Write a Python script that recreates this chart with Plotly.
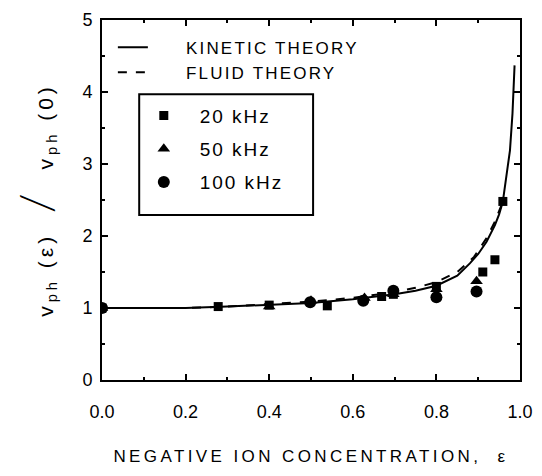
import plotly.graph_objects as go

# theory curves
kinetic_x = [0.0, 0.1, 0.2, 0.3, 0.4, 0.5, 0.6, 0.7, 0.75, 0.8, 0.85, 0.88,
             0.9, 0.92, 0.94, 0.95, 0.959, 0.968, 0.976, 0.982, 0.986, 0.987]
kinetic_y = [1.0, 1.0, 1.0, 1.02, 1.04, 1.07, 1.12, 1.19, 1.24, 1.31, 1.45, 1.62,
             1.75, 1.92, 2.15, 2.3, 2.48, 2.85, 3.19, 3.7, 4.2, 4.37]
fluid_x = [0.0, 0.1, 0.2, 0.3, 0.4, 0.5, 0.6, 0.7, 0.75, 0.8, 0.85, 0.89,
           0.92, 0.94, 0.955, 0.96]
fluid_y = [1.0, 1.0, 1.0, 1.02, 1.05, 1.09, 1.14, 1.22, 1.28, 1.36, 1.5, 1.71,
           1.97, 2.2, 2.42, 2.5]

# measurements
sq_x = [0.0, 0.278, 0.40, 0.539, 0.669, 0.697, 0.80, 0.911, 0.940, 0.959]
sq_y = [1.0, 1.02, 1.04, 1.03, 1.16, 1.19, 1.30, 1.50, 1.67, 2.48]
tri_x = [0.0, 0.40, 0.50, 0.628, 0.697, 0.80, 0.896]
tri_y = [1.0, 1.02, 1.10, 1.14, 1.19, 1.26, 1.37]
circ_x = [0.0, 0.498, 0.625, 0.697, 0.80, 0.896]
circ_y = [1.0, 1.08, 1.10, 1.24, 1.15, 1.23]

FONT = "Liberation Sans"
NB = "\u00a0"


def spaced(s, px, lead=0):
    return f"{NB * lead}<span style='letter-spacing:{px}px'>{s}</span>"


fig = go.Figure()

fig.add_trace(go.Scatter(x=kinetic_x, y=kinetic_y, mode="lines", name=spaced("KINETIC THEORY", 2.2, 7),
                         line=dict(color="black", width=2), legend="legend"))
fig.add_trace(go.Scatter(x=fluid_x, y=fluid_y, mode="lines", name=spaced("FLUID THEORY", 2.2, 7),
                         line=dict(color="black", width=2, dash="dash"), legend="legend"))

fig.add_trace(go.Scatter(x=sq_x, y=sq_y, mode="markers", name=spaced("20 kHz", 2, 3), legend="legend2",
                         legendgroup="a", marker=dict(symbol="square", size=9, color="black")))
fig.add_trace(go.Scatter(x=tri_x, y=tri_y, mode="markers", name=spaced("50 kHz", 2, 3), legend="legend2",
                         legendgroup="b", marker=dict(symbol="triangle-up", size=11, color="black")))
fig.add_trace(go.Scatter(x=circ_x, y=circ_y, mode="markers", name=spaced("100 kHz", 2, 3),
                         legend="legend2", legendgroup="c",
                         marker=dict(symbol="circle", size=12, color="black")))

# page body has an 8px margin, so the figure is 8px smaller and shifted
fig.update_layout(
    width=534, height=468,
    margin=dict(l=94, r=22, t=12, b=96),
    paper_bgcolor="white", plot_bgcolor="white",
    font=dict(family=FONT, color="black", size=18),
    legend=dict(x=0.026, y=0.973, xanchor="left", yanchor="top",
                bgcolor="rgba(0,0,0,0)", font=dict(size=17), tracegroupgap=2),
    legend2=dict(x=0.1, y=0.787, xanchor="left", yanchor="top",
                 bgcolor="rgba(0,0,0,0)", borderwidth=0,
                 font=dict(size=19), tracegroupgap=5.5),
    # frame around the marker legend
    shapes=[dict(type="rect", xref="paper", yref="paper", x0=0.089, x1=0.505, y0=0.458, y1=0.794,
                 line=dict(color="black", width=2), fillcolor="white", layer="below")],
    xaxis=dict(
        range=[0, 1.0], dtick=0.2, tickformat=".1f", automargin=False,
        showline=True, linecolor="black", linewidth=2, mirror="ticks",
        ticks="inside", ticklen=6, tickwidth=2, tickcolor="black",
        minor=dict(dtick=0.1, ticks="inside", ticklen=3, tickcolor="black"),
        showgrid=False, zeroline=False, ticklabelstandoff=14,
        title=dict(text=spaced("NEGATIVE ION CONCENTRATION,  ε", 3.4), font=dict(size=17), standoff=30),
    ),
    yaxis=dict(
        range=[0, 5], dtick=1, automargin=False,
        showline=True, linecolor="black", linewidth=2, mirror="ticks",
        ticks="inside", ticklen=6, tickwidth=2, tickcolor="black",
        minor=dict(dtick=0.5, ticks="inside", ticklen=3, tickcolor="black"),
        showgrid=False, zeroline=False, ticklabelstandoff=4,
        title=dict(text="<span style='letter-spacing:4px'>v<sub>ph</sub> (ε)  "
                        "<span style='font-size:46px;font-family:Lato;font-weight:300'>/</span>"
                        "  v<sub>ph</sub> (0)</span>",
                   font=dict(size=21), standoff=42),
    ),
)

fig.write_html("out.html")
